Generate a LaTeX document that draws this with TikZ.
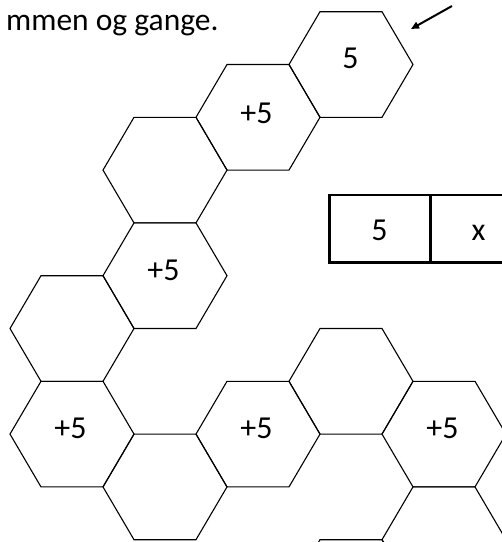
\documentclass[tikz,border=0pt]{standalone}
\usepackage{fontspec}
\setmainfont{Carlito}
\usetikzlibrary{arrows.meta}
\tikzset{
  hexline/.style={draw=black, line width=1.1pt, line join=miter},
  lbl/.style={anchor=base, inner sep=0pt, font=\fontsize{32}{38}\selectfont},
  ttl/.style={anchor=base west, inner sep=0pt, font=\fontsize{31.5}{38}\selectfont},
  tableline/.style={draw=black, line width=2.7pt},
  pointer/.style={draw=black, line width=2pt, -{Triangle[length=8pt,width=7pt]}},
  hexcell/.pic={\path[hexline] (-62,0) -- (-31,-52.8) -- (31,-52.8) -- (62,0) -- (31,52.8) -- (-31,52.8) -- cycle;}
}
\begin{document}
\begin{tikzpicture}[x=1pt,y=-1pt]
\useasboundingbox (0,0) rectangle (502,542);
\begin{scope}
\clip (0,0) rectangle (502,542);
% hexagons
\pic at (351,64.5) {hexcell};
\pic at (258,117.3) {hexcell};
\pic at (165,170.1) {hexcell};
\pic at (165,275.7) {hexcell};
\pic at (72,328.5) {hexcell};
\pic at (72,434.1) {hexcell};
\pic at (165,486.9) {hexcell};
\pic at (258,434.1) {hexcell};
\pic at (351,381.3) {hexcell};
\pic at (444,434.1) {hexcell};
\pic at (444,539.7) {hexcell};
\pic at (351,592.5) {hexcell};
% table
\path[tableline] (329.5,195) rectangle (531,262.3);
\path[tableline] (430.2,195) -- (430.2,262.3);
\end{scope}
% labels
\node[lbl] (hA) at (350.5,68) {5};
\node[lbl] (hB) at (256.5,123) {+5};
\node[lbl] (hD) at (163.5,280) {+5};
\node[lbl] (hF) at (70.5,438) {+5};
\node[lbl] (hH) at (256.5,438) {+5};
\node[lbl] (hJ) at (442.5,438) {+5};
\node[lbl] (t1) at (379.5,240) {5};
\node[lbl] (t2) at (478.5,240) {x};
% title
\node[ttl] (title) at (6,30) {mmen og gange.};
% arrow
\coordinate (arrS) at (452,6);
\coordinate (arrE) at (411,29);
\draw[pointer] (arrS) -- (arrE);
\end{tikzpicture}
\end{document}
